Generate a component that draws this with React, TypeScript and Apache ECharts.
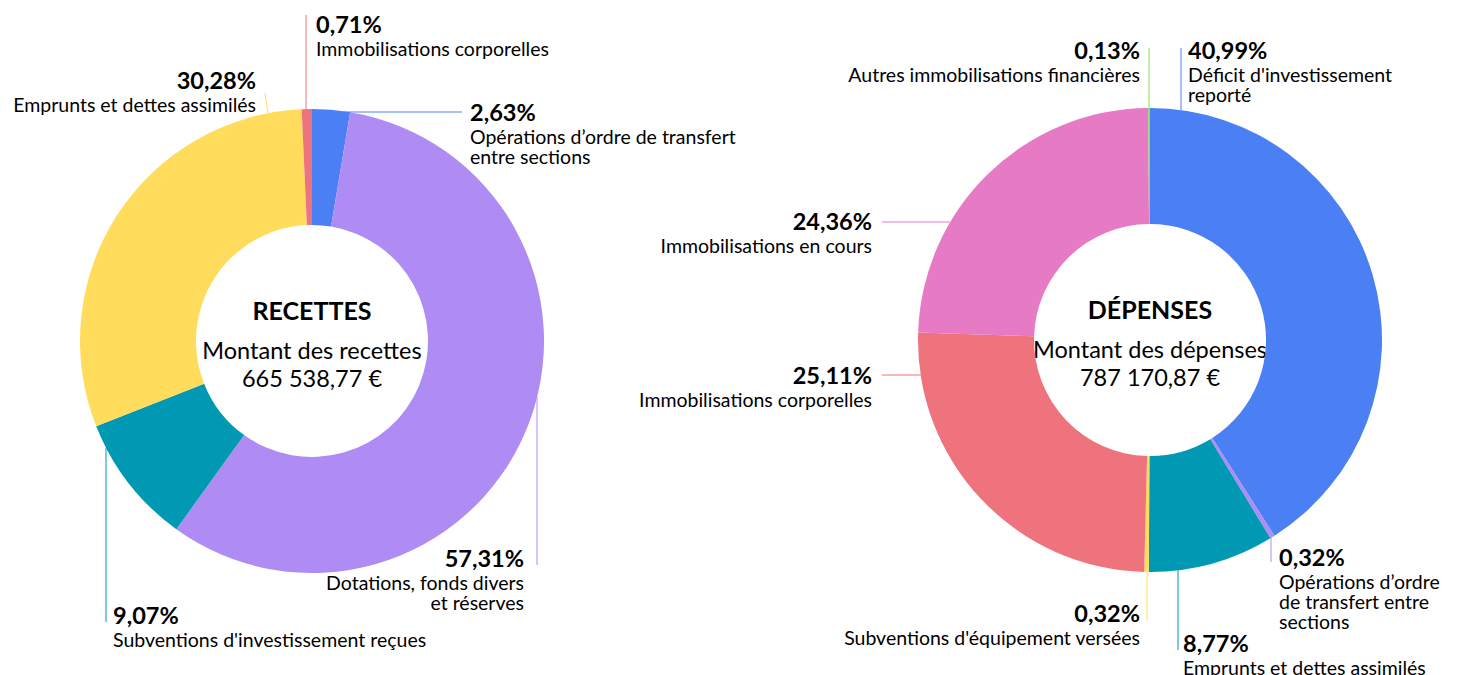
import React, { useEffect, useRef } from "react";
import * as echarts from "echarts";

// ---- Data ----
const recettesNames = [
  "Opérations d’ordre de transfert\nentre sections",
  "Dotations, fonds divers\net réserves",
  "Subventions d'investissement reçues",
  "Emprunts et dettes assimilés",
  "Immobilisations corporelles",
];
const recettesValues = [2.63, 57.31, 9.07, 30.28, 0.71];

const depensesNames = [
  "Déficit d'investissement\nreporté",
  "Opérations d’ordre\nde transfert entre\nsections",
  "Emprunts et dettes assimilés",
  "Subventions d'équipement versées",
  "Immobilisations corporelles",
  "Immobilisations en cours",
  "Autres immobilisations financières",
];
const depensesValues = [40.99, 0.32, 8.77, 0.32, 25.11, 24.36, 0.13];

const centerTitles = ["RECETTES", "DÉPENSES"];
const centerSubtitles = ["Montant des recettes", "Montant des dépenses"];
const centerAmounts = ["665 538,77 €", "787 170,87 €"];

// ---- Styles / layout ----
const recettesColors = ["#4B80F5", "#AE8CF3", "#0098B2", "#FFDC5C", "#EF737D"];
const depensesColors = ["#4B80F5", "#AE8CF3", "#0098B2", "#FFDC5C", "#EF737D", "#E77AC4", "#8EDB5C"];

const FONT = "Lato, 'Noto Sans', sans-serif";

const leftLayout = [
  { x: 470, y: 98, align: "left", line: [[340, 112], [462, 112]] },
  { x: 524, y: 544, align: "right", line: [[537, 397], [537, 565]] },
  { x: 113, y: 601, align: "left", line: [[106, 448], [106, 622]] },
  { x: 256, y: 66, align: "right", line: [[268, 113], [265, 93]] },
  { x: 316, y: 10, align: "left", line: [[306, 110], [306, 15]] },
];
const rightLayout = [
  { x: 1188, y: 36, align: "left", line: [[1181, 110], [1181, 48]] },
  { x: 1279, y: 543, align: "left", line: [[1271, 537], [1271, 562]] },
  { x: 1183, y: 629, align: "left", line: [[1178, 570], [1178, 650]] },
  { x: 1140, y: 599, align: "right", line: [[1147, 572], [1147, 620]] },
  { x: 872, y: 361, align: "right", line: [[921, 375], [882, 375]] },
  { x: 872, y: 207, align: "right", line: [[950, 222], [882, 222]] },
  { x: 1140, y: 36, align: "right", line: [[1149, 108], [1149, 48]] },
];

const fmtPct = (v: number) => v.toFixed(2).replace(".", ",") + "%";

function makeSeries(
  names: string[],
  values: number[],
  colors: string[],
  center: number[],
  layout: any[]
) {
  return {
    type: "pie",
    center,
    radius: [116, 232],
    startAngle: 90,
    clockwise: true,
    avoidLabelOverlap: false,
    silent: true,
    itemStyle: { borderWidth: 0 },
    label: {
      show: true,
      position: "outside",
      formatter: (p: any) => `{p|${fmtPct(p.value)}}\n{n|${p.name}}`,
      rich: {
        p: { fontFamily: FONT, fontSize: 23.5, fontWeight: "bold", color: "#000", lineHeight: 28 },
        n: { fontFamily: FONT, fontSize: 19.5, color: "#000", lineHeight: 20 },
      },
    },
    labelLine: { show: true, length: 10, length2: 10, lineStyle: { width: 1 } },
    labelLayout: (params: any) => {
      const l = layout[params.dataIndex];
      return {
        x: l.x,
        y: l.y,
        align: l.align,
        verticalAlign: "top",
        labelLinePoints: l.line,
      };
    },
    data: names.map((n, i) => ({
      name: n,
      value: values[i],
      itemStyle: { color: colors[i] },
      label: { align: layout[i].align },
    })),
  };
}

export default function App() {
  const ref = useRef<HTMLDivElement>(null);
  useEffect(() => {
    document.body.style.margin = "0";
    if (!ref.current) return;
    const chart = echarts.init(ref.current, null, { renderer: "svg" });
    const centersX = [312, 1150];
    const centersY = [341, 340];
    const graphics: any[] = [];
    for (let i = 0; i < 2; i++) {
      graphics.push({
        type: "text",
        x: centersX[i],
        y: centersY[i] - 31,
        style: {
          text: centerTitles[i],
          fontFamily: FONT,
          fontSize: 25,
          fontWeight: "bold",
          fill: "#000",
          align: "center",
          verticalAlign: "middle",
        },
      });
      graphics.push({
        type: "text",
        x: centersX[i],
        y: centersY[i] + 9,
        style: {
          text: centerSubtitles[i],
          fontFamily: FONT,
          fontSize: 23.5,
          fill: "#000",
          align: "center",
          verticalAlign: "middle",
        },
      });
      graphics.push({
        type: "text",
        x: centersX[i],
        y: centersY[i] + 37,
        style: {
          text: centerAmounts[i],
          fontFamily: FONT,
          fontSize: 23.5,
          fill: "#000",
          align: "center",
          verticalAlign: "middle",
        },
      });
    }
    chart.setOption({
      animation: false,
      backgroundColor: "#ffffff",
      series: [
        makeSeries(recettesNames, recettesValues, recettesColors, [312, 341], leftLayout),
        makeSeries(depensesNames, depensesValues, depensesColors, [1150, 340], rightLayout),
      ],
      graphic: graphics,
    });
    return () => chart.dispose();
  }, []);
  return <div ref={ref} style={{ width: 1462, height: 675 }} />;
}
